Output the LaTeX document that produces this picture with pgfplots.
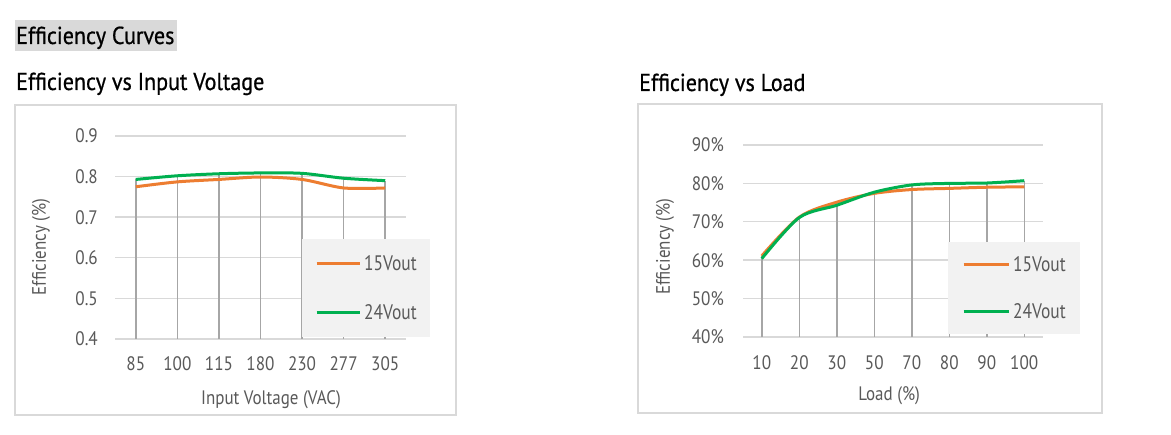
\documentclass[border=0pt]{standalone}
\usepackage{fontspec}
\setmainfont{PT Sans}
\newfontfamily\titlefont[FakeStretch=0.9, FakeBold=0.7]{PT Sans}
\newfontfamily\tickfont[FakeStretch=0.88]{PT Sans}
\newfontfamily\chartfont[FakeStretch=0.87]{PT Sans}
\newfontfamily\legfont[FakeStretch=0.83]{PT Sans}
\usepackage{pgfplots}
\pgfplotsset{compat=1.18}
\definecolor{orangeS}{HTML}{ED7D31}
\definecolor{greenS}{HTML}{00B050}
\definecolor{gridc}{HTML}{D9D9D9}
\definecolor{dropc}{HTML}{A6A6A6}
\definecolor{txtc}{HTML}{595959}
\definecolor{legbg}{HTML}{F2F2F2}
\definecolor{titlebg}{HTML}{D9D9D9}

\pgfplotsset{
  effbase/.style={
    scale only axis,
    axis line style={draw=none},
    tick style={draw=none},
    major tick length=0pt,
    ymajorgrids,
    grid style={draw=gridc, line width=1.4pt},
    tick label style={font=\tickfont\fontsize{19.5}{21}\selectfont, text=txtc},
    label style={font=\chartfont\fontsize{19.5}{21}\selectfont, text=txtc},
    yticklabel style={anchor=east, inner sep=0pt},
    xticklabel style={anchor=base},
    legend cell align=left,
    legend style={fill=legbg, draw=none, font=\legfont\fontsize{21}{23}\selectfont, text=txtc,
      nodes={inner sep=0pt}, anchor=north west,
      /tikz/every odd column/.append style={column sep=3pt}},
  }
}

\begin{document}
\begin{tikzpicture}
\fill[white] (0,0) rectangle (1171pt,435pt);
% heading
\fill[titlebg] (15pt,384pt) rectangle (177pt,415pt);
\node[anchor=base west, inner sep=0pt, font=\titlefont\fontsize{24.5}{27}\selectfont] at (16pt,391pt) {Efficiency Curves};
\node[anchor=base west, inner sep=0pt, font=\titlefont\fontsize{24.5}{27}\selectfont] at (16pt,345pt) {Efficiency vs Input Voltage};
\node[anchor=base west, inner sep=0pt, font=\titlefont\fontsize{24.5}{27}\selectfont] at (639pt,344pt) {Efficiency vs Load};
% frames
\draw[gridc, line width=1.5pt] (15pt,20pt) rectangle (456pt,330pt);
\draw[gridc, line width=1.5pt] (638pt,22pt) rectangle (1102pt,331pt);

\begin{axis}[effbase,
  at={(115pt,96pt)}, anchor=south west, width=291pt, height=203pt,
  xmin=-0.5, xmax=6.5, ymin=0.4, ymax=0.9,
  xtick={0,1,2,3,4,5,6}, xticklabels={85,100,115,180,230,277,305},
  ytick={0.4,0.5,0.6,0.7,0.8,0.9}, yticklabels={0.4,0.5,0.6,0.7,0.8,0.9},
  yticklabel style={xshift=-17pt},
  xticklabel style={yshift=-32pt},
  xlabel={Input Voltage (VAC)}, ylabel={Efficiency (\%)},
  xlabel style={at={(axis description cs:0.536,-0.30)}, anchor=center},
  ylabel style={at={(axis description cs:-0.254,0.453)}, anchor=center},
  legend image code/.code={\draw[#1, line width=3pt] (0pt,0pt) -- (43pt,0pt);},
  legend style={at={(axis description cs:0.6426,0.4926)}, inner xsep=13pt, inner ysep=16pt, row sep=33pt},
]
\addplot[dropc, line width=1.5pt, forget plot, unbounded coords=jump] coordinates {
 (0,0.4) (0,0.793) (0,nan) (1,0.4) (1,0.802) (1,nan) (2,0.4) (2,0.807) (2,nan)
 (3,0.4) (3,0.809) (3,nan) (4,0.4) (4,0.808) (4,nan) (5,0.4) (5,0.796) (5,nan)
 (6,0.4) (6,0.790)};
\addplot[orangeS, line width=3pt, smooth, tension=0.5] coordinates {
 (0,0.775) (1,0.787) (2,0.793) (3,0.799) (4,0.793) (5,0.772) (6,0.772)};
\addlegendentry{15Vout}
\addplot[greenS, line width=3pt, smooth, tension=0.5] coordinates {
 (0,0.793) (1,0.802) (2,0.807) (3,0.809) (4,0.808) (5,0.796) (6,0.790)};
\addlegendentry{24Vout}
\end{axis}

\begin{axis}[effbase,
  at={(743pt,98pt)}, anchor=south west, width=300pt, height=192pt,
  xmin=-0.5, xmax=7.5, ymin=40, ymax=90,
  xtick={0,1,2,3,4,5,6,7}, xticklabels={10,20,30,50,70,80,90,100},
  ytick={40,50,60,70,80,90}, yticklabels={40\%,50\%,60\%,70\%,80\%,90\%},
  yticklabel style={xshift=-19pt},
  xticklabel style={yshift=-33pt},
  xlabel={Load (\%)}, ylabel={Efficiency (\%)},
  xlabel style={at={(axis description cs:0.487,-0.307)}, anchor=center},
  ylabel style={at={(axis description cs:-0.26,0.471)}, anchor=center},
  legend image code/.code={\draw[#1, line width=3pt] (0pt,0pt) -- (45pt,0pt);},
  legend style={at={(axis description cs:0.6833,0.4948)}, inner xsep=14pt, inner ysep=14pt, row sep=31pt},
]
\addplot[dropc, line width=1.5pt, forget plot, unbounded coords=jump] coordinates {
 (0,40) (0,61.1) (0,nan) (1,40) (1,71.2) (1,nan) (2,40) (2,75.1) (2,nan)
 (3,40) (3,77.7) (3,nan) (4,40) (4,79.6) (4,nan) (5,40) (5,80.0) (5,nan)
 (6,40) (6,80.1) (6,nan) (7,40) (7,80.7)};
\addplot[orangeS, line width=3pt, smooth, tension=0.5] coordinates {
 (0,61.1) (1,71.2) (2,75.1) (3,77.4) (4,78.4) (5,78.7) (6,79.0) (7,79.1)};
\addlegendentry{15Vout}
\addplot[greenS, line width=3pt, smooth, tension=0.5] coordinates {
 (0,60.4) (1,71.1) (2,74.3) (3,77.7) (4,79.6) (5,80.0) (6,80.1) (7,80.7)};
\addlegendentry{24Vout}
\end{axis}
\pgfresetboundingbox
\path (0,0) rectangle (1171pt,435pt);
\end{tikzpicture}
\end{document}
